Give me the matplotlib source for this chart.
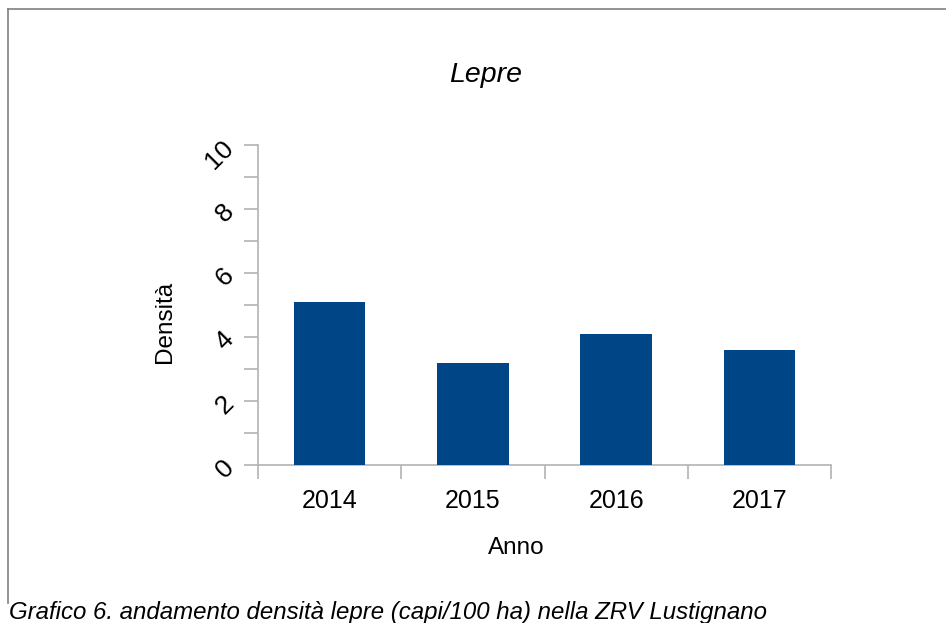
import matplotlib
matplotlib.use("Agg")
import matplotlib.pyplot as plt
from matplotlib.lines import Line2D
from matplotlib.ticker import MultipleLocator

plt.rcParams['font.family'] = ['Liberation Sans', 'DejaVu Sans']

# dati
anni = ['2014', '2015', '2016', '2017']
densita = [5.1, 3.2, 4.1, 3.6]

colore_barre = '#004586'
grigio = '#b3b3b3'

fig = plt.figure(figsize=(9.46, 6.23), dpi=100)
ax = fig.add_axes([258/946, 1 - 465/623, 573/946, 320/623])

ax.bar(range(len(anni)), densita, width=0.5, color=colore_barre, zorder=3)

ax.set_xlim(-0.5, len(anni) - 0.5)
ax.set_ylim(0, 10)
ax.set_xticks(range(len(anni)))
ax.set_xticklabels(anni, fontsize=18)
ax.set_xticks([i - 0.5 for i in range(len(anni) + 1)], minor=True)
ax.tick_params(axis='x', which='major', length=0, pad=17)
ax.tick_params(axis='x', which='minor', length=10, color=grigio, width=1.2)

ax.yaxis.set_major_locator(MultipleLocator(2))
ax.yaxis.set_minor_locator(MultipleLocator(1))
ax.tick_params(axis='y', which='both', length=10, color=grigio, width=1.2, labelsize=19, pad=4)
for lab in ax.get_yticklabels():
    lab.set_rotation(45)

for s in ['top', 'right']:
    ax.spines[s].set_visible(False)
for s in ['left', 'bottom']:
    ax.spines[s].set_color(grigio)
    ax.spines[s].set_linewidth(1.2)

fig.text(486/946, 1 - 75/623, 'Lepre', fontsize=20.5, style='italic', ha='center', va='center')
fig.text(165/946, 1 - 322/623, 'Densità', fontsize=17.5, rotation=90, ha='center', va='center')
fig.text(516/946, 1 - 548/623, 'Anno', fontsize=17.5, ha='center', va='center')
fig.text(9/946, 1 - 619/623, 'Grafico 6. andamento densità lepre (capi/100 ha) nella ZRV Lustignano',
         fontsize=17.3, style='italic', ha='left', va='baseline')

# cornice
fig.add_artist(Line2D([8/946, 1], [1 - 9/623, 1 - 9/623], color='#808080', lw=1.2))
fig.add_artist(Line2D([8/946, 8/946], [1 - 9/623, 1 - 603/623], color='#808080', lw=1.2))

fig.savefig('out.png', dpi=100)
